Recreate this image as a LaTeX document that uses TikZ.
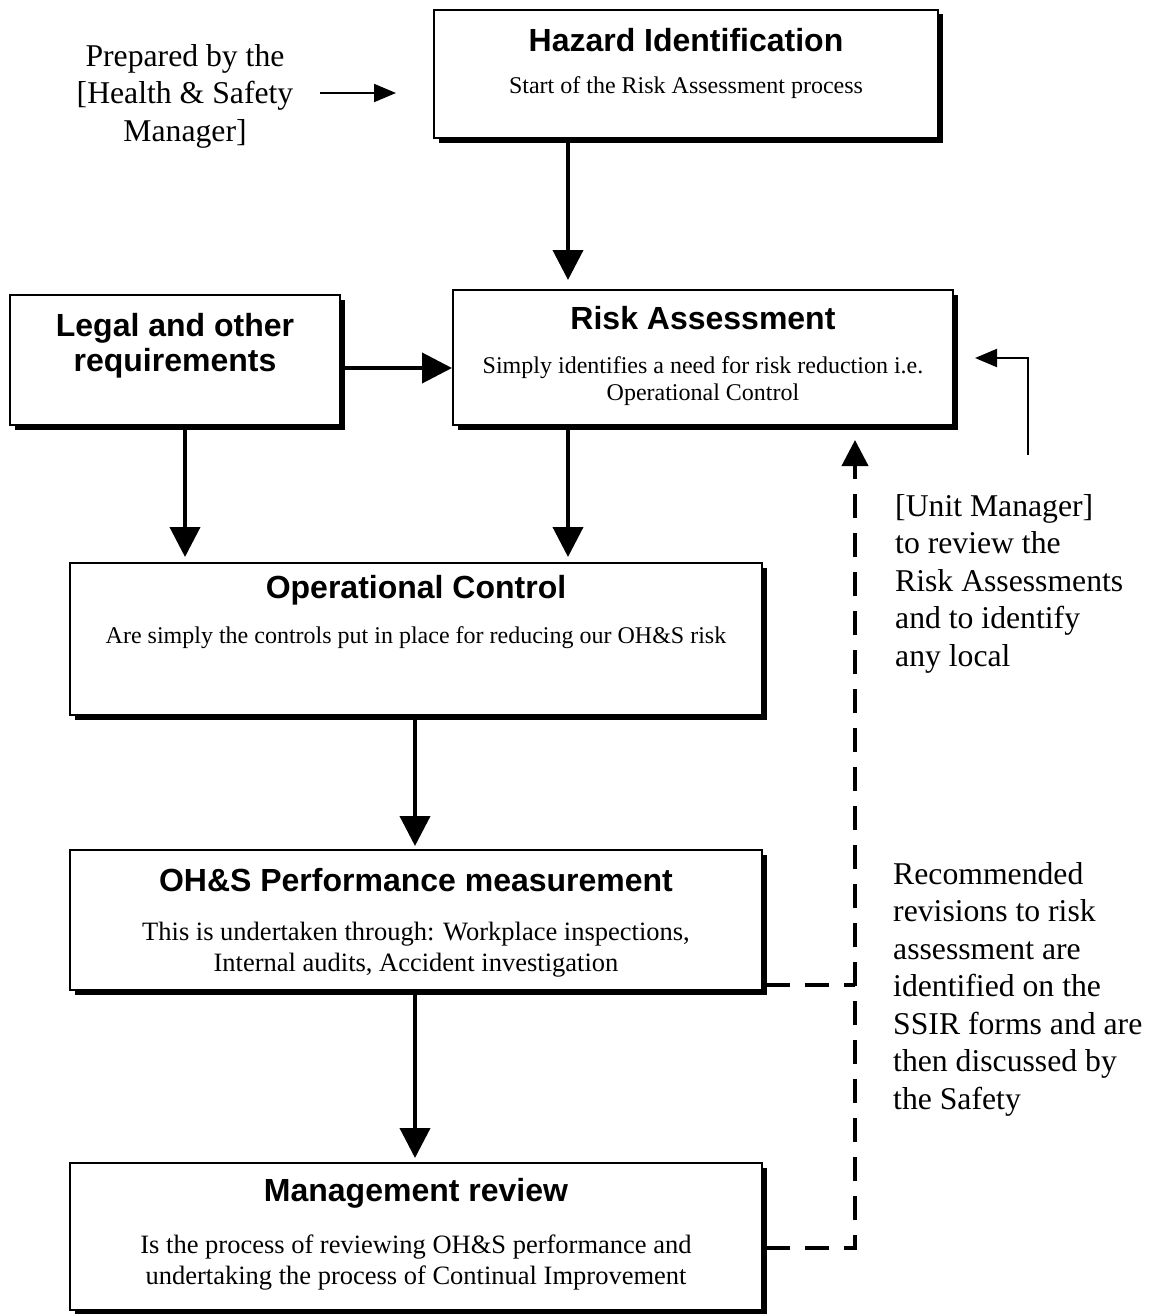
\documentclass[tikz,border=0pt]{standalone}
\usepackage{fontspec}
\setmainfont{Liberation Serif}
\newfontfamily\titlefont{Liberation Sans}
\usetikzlibrary{arrows.meta,shadows}
\begin{document}
\begin{tikzpicture}[x=1pt,y=-1pt,
 box/.style={draw, line width=2pt, fill=white, inner sep=0pt,
   drop shadow={shadow xshift=4.5pt, shadow yshift=-4.5pt, opacity=1, fill=black}},
 ttl/.style={font=\titlefont\bfseries\fontsize{32}{35}\selectfont, inner sep=0pt, align=center},
 body/.style={font=\fontsize{24}{31}\selectfont, inner sep=0pt, align=center},
 bigbody/.style={font=\fontsize{26.5}{31}\selectfont, inner sep=0pt, align=center},
 side/.style={font=\fontsize{31.7}{37.5}\selectfont, inner sep=0pt},
 arr/.style={line width=4pt, -{Triangle[length=30pt,width=30pt]}},
 thinarr/.style={line width=2pt, -{Triangle[length=22pt,width=18pt]}},
 dasharr/.style={line width=4pt, dash pattern=on 24pt off 15pt, -{Triangle[length=26pt,width=26pt]}},
 dashln/.style={line width=4pt, dash pattern=on 24pt off 15pt},
]
\useasboundingbox (0,0) rectangle (1160,1314);
\fill[white] (0,0) rectangle (1160,1314);

% boxes
\node[box, minimum width=504pt, minimum height=128pt] (haz) at (686,74) {};
\node[box, minimum width=330pt, minimum height=130pt] (legal) at (175,360) {};
\node[box, minimum width=500pt, minimum height=135pt] (risk) at (703,357.5) {};
\node[box, minimum width=692pt, minimum height=152pt] (op) at (416,639) {};
\node[box, minimum width=692pt, minimum height=140pt] (perf) at (416,920) {};
\node[box, minimum width=692pt, minimum height=147pt] (mgmt) at (416,1236.5) {};

% box texts
\node[ttl] (hazT) at (686,40) {Hazard Identification};
\node[body] (hazB) at (686,88) {Start of the Risk Assessment process};
\node[ttl] (legT) at (175,346) {Legal and other\\requirements};
\node[ttl] (riskT) at (703,318) {Risk Assessment};
\node[body, font=\fontsize{24}{27}\selectfont] (riskB) at (703,381) {Simply identifies a need for risk reduction i.e.\\Operational Control};
\node[ttl] (opT) at (416,590) {Operational Control};
\node[body] (opB) at (416,638) {Are simply the controls put in place for reducing our OH\&S risk};
\node[ttl] (perfT) at (416,880) {OH\&S Performance measurement};
\node[bigbody] (perfB) at (416,950) {This is undertaken through: Workplace inspections,\\Internal audits, Accident investigation};
\node[ttl] (mgmtT) at (416,1193) {Management review};
\node[bigbody] (mgmtB) at (416,1263) {Is the process of reviewing OH\&S performance and\\undertaking the process of Continual Improvement};

% side texts
\node[side, align=center] (prep) at (185,96) {Prepared by the\\{}[Health \& Safety\\Manager]};
\node[side, align=left, anchor=north west] (unit) at (895,494) {[Unit Manager]\\to review the\\Risk Assessments\\and to identify\\any local};
\node[side, align=left, anchor=north west] (rec) at (893,862) {Recommended\\revisions to risk\\assessment are\\identified on the\\SSIR forms and are\\then discussed by\\the Safety};

% helper coordinates
\coordinate (c568) at (568,0);
\coordinate (c185) at (185,0);
\coordinate (c415) at (415,0);
\coordinate (y368) at (0,368);
\coordinate (pa) at (320,93);
\coordinate (pb) at (396,93);
\coordinate (dp) at (855,985);
\coordinate (dm) at (855,1248);
\coordinate (dtop) at (855,440);
\coordinate (u1) at (1028,455);
\coordinate (u2) at (975,358);

% connectors
\draw[thinarr] (pa) -- (pb);
\draw[arr, shorten >=9pt] (haz.south -| c568) -- (risk.north -| c568);
\draw[arr] (legal.east |- y368) -- (risk.west |- y368);
\draw[arr, shorten >=5pt] (legal.south -| c185) -- (op.north -| c185);
\draw[arr, shorten >=5pt] (risk.south -| c568) -- (op.north -| c568);
\draw[arr, shorten >=3pt] (op.south -| c415) -- (perf.north -| c415);
\draw[arr, shorten >=4pt] (perf.south -| c415) -- (mgmt.north -| c415);
\draw[dasharr] ([xshift=3pt]mgmt.east |- dm) -- (dm) -- (dtop);
\draw[dashln] ([xshift=3pt]perf.east |- dp) -- (dp);
\draw[thinarr] (u1) |- (u2);
\end{tikzpicture}
\end{document}
